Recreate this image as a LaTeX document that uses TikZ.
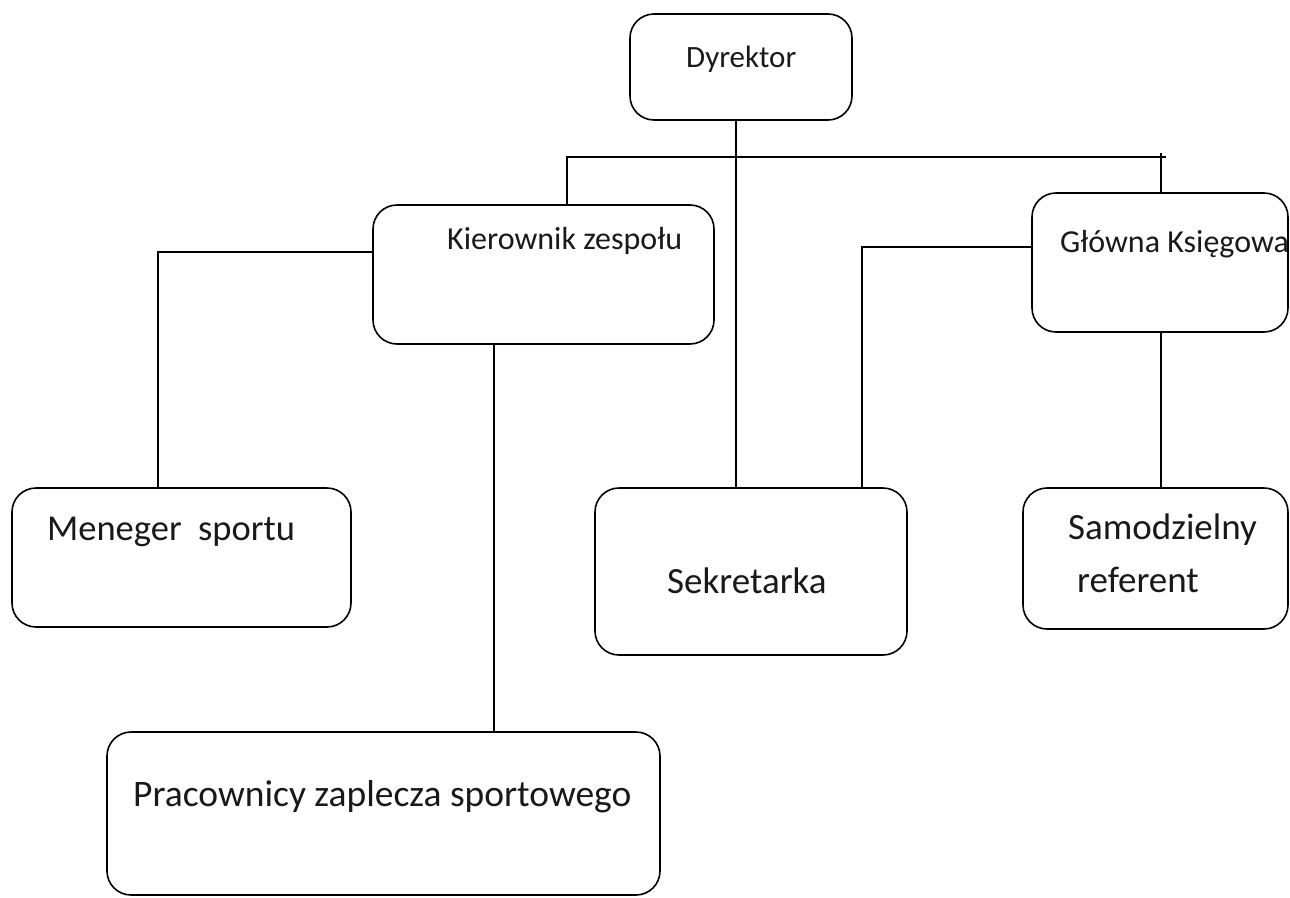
\documentclass[tikz,border=0pt]{standalone}
\usepackage{fontspec}
\setmainfont{Carlito}
\begin{document}
\begin{tikzpicture}[x=1pt,y=-1pt,
  box/.style={draw=black, line width=1.6pt, rounded corners=24pt, inner sep=0pt, outer sep=0pt},
  txt/.style={inner sep=0pt, anchor=base west, text=black!90},
  conn/.style={draw=black, line width=1.5pt}]
\useasboundingbox (0,0) rectangle (1290,897);
% boxes
\node[box, minimum width=222pt, minimum height=106pt] (dyr) at (741,67) {};
\node[box, minimum width=341pt, minimum height=139pt] (kier) at (543.5,274.5) {};
\node[box, minimum width=256pt, minimum height=139pt] (glow) at (1160,262.5) {};
\node[box, minimum width=339pt, minimum height=139pt] (men) at (181.5,557.5) {};
\node[box, minimum width=312pt, minimum height=167pt] (sek) at (751,571.5) {};
\node[box, minimum width=265pt, minimum height=141pt] (sam) at (1155.5,558.5) {};
\node[box, minimum width=553pt, minimum height=163pt] (prac) at (383.5,813.5) {};
% texts
\node[txt, font=\fontsize{31}{37}\selectfont] (tdyr) at (686,67) {Dyrektor};
\node[txt, font=\fontsize{32}{38}\selectfont] (tkier) at (447,249) {Kierownik zespołu};
\node[txt, font=\fontsize{32}{38}\selectfont] (tglow) at (1060,252) {Główna Księgowa};
\node[txt, font=\fontsize{36.5}{44}\selectfont] (tmen) at (47,540) {Meneger\ \ sportu};
\node[txt, font=\fontsize{37}{44}\selectfont] (tsek) at (667,593) {Sekretarka};
\node[txt, font=\fontsize{37}{44}\selectfont] (tsam1) at (1068,539) {Samodzielny};
\node[txt, font=\fontsize{37}{44}\selectfont] (tsam2) at (1077,592) {referent};
\node[txt, font=\fontsize{37.5}{44}\selectfont] (tprac) at (133,806) {Pracownicy zaplecza sportowego};
% connector helper coordinates
\coordinate (xdyr) at (736,0);
\coordinate (bus) at (0,157);
\coordinate (xkier) at (567,0);
\coordinate (xglow) at (1161,0);
\coordinate (busend) at (1166,157);
\coordinate (bustop) at (1161,153);
\coordinate (ykier) at (0,252);
\coordinate (xmen) at (158,0);
\coordinate (xprac) at (494,0);
\coordinate (yglow) at (0,247);
\coordinate (xsek) at (862,0);
% connectors
\draw[conn] (xdyr |- dyr.south) -- (xdyr |- sek.north);
\draw[conn] (xkier |- kier.north) -- (xkier |- bus) -- (busend);
\draw[conn] (bustop) -- (xglow |- glow.north);
\draw[conn] (kier.west |- ykier) -- (xmen |- ykier) -- (xmen |- men.north);
\draw[conn] (xprac |- kier.south) -- (xprac |- prac.north);
\draw[conn] (glow.west |- yglow) -- (xsek |- yglow) -- (xsek |- sek.north);
\draw[conn] (xglow |- glow.south) -- (xglow |- sam.north);
\end{tikzpicture}
\end{document}
